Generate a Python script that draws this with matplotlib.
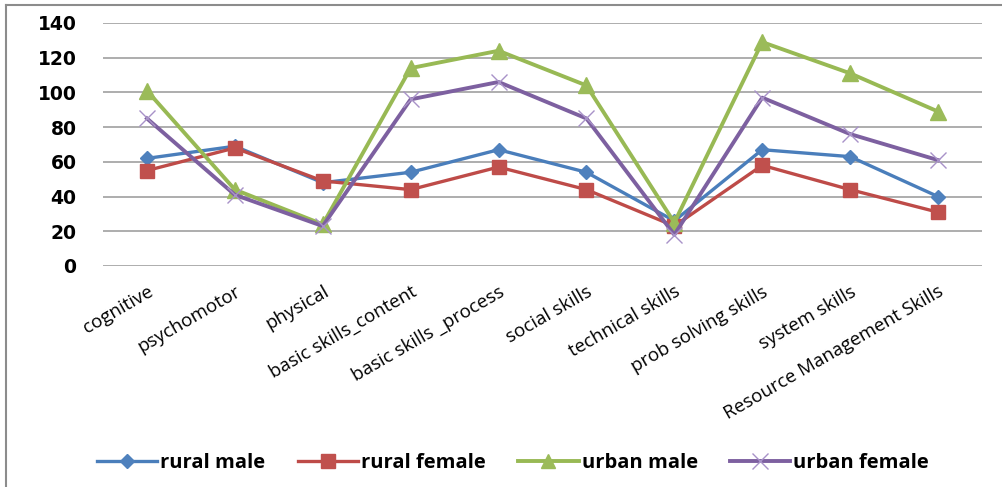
import matplotlib
matplotlib.use("Agg")
import matplotlib.pyplot as plt
from matplotlib.lines import Line2D

# skill categories along the x axis
categories = ["cognitive", "psychomotor", "physical", "basic skills_content",
              "basic skills _process", "social skills", "technical skills",
              "prob solving skills", "system skills", "Resource Management Skills"]

rural_male = [62, 69, 48, 54, 67, 54, 26, 67, 63, 40]
rural_female = [55, 68, 49, 44, 57, 44, 23, 58, 44, 31]
urban_male = [101, 44, 24, 114, 124, 104, 25, 129, 111, 89]
urban_female = [85, 41, 23, 96, 106, 85, 18, 97, 76, 61]

series_names = ["rural male", "rural female", "urban male", "urban female"]
y_ticks = [0, 20, 40, 60, 80, 100, 120, 140]

fig = plt.figure(figsize=(10.02, 4.87), dpi=100)
ax = fig.add_axes([0.1028, 0.4538, 0.8772, 0.499])

x = list(range(len(categories)))

ax.plot(x, rural_male, color="#4A7EBB", lw=2.4, marker="D", ms=7,
        mfc="#4F81BD", mec="#4F81BD", zorder=3)
ax.plot(x, rural_female, color="#BE4B48", lw=2.4, marker="s", ms=10,
        mfc="#C0504D", mec="#C0504D", zorder=3)
ax.plot(x, urban_male, color="#98B954", lw=2.8, marker="^", ms=11,
        mfc="#9BBB59", mec="#9BBB59", zorder=3)
ax.plot(x, urban_female, color="#7D60A0", lw=2.8, zorder=3)
ax.plot(x, urban_female, ls="none", marker="x", ms=12, mew=1.0,
        color="#A892C8", zorder=4)

ax.set_xlim(-0.5, len(categories) - 0.5)
ax.set_ylim(0, 140)
ax.set_yticks(y_ticks)
ax.yaxis.grid(True, color="#A0A0A0", lw=1.2)
ax.set_axisbelow(True)
for s in ax.spines.values():
    s.set_visible(False)
ax.tick_params(length=0)
ax.tick_params(axis="y", pad=19)
for t in ax.get_yticklabels():
    t.set_fontweight("bold")
    t.set_fontsize(13.5)
    t.set_family("DejaVu Sans")

ax.set_xticks(x)
ax.set_xticklabels(categories, rotation=30, ha="right", va="top",
                   rotation_mode="anchor", fontsize=13.5, family="Open Sans")
ax.tick_params(axis="x", pad=12)

handles = [
    Line2D([], [], color="#4A7EBB", lw=2.4, marker="D", ms=7, mfc="#4F81BD", mec="#4F81BD"),
    Line2D([], [], color="#BE4B48", lw=2.4, marker="s", ms=10, mfc="#C0504D", mec="#C0504D"),
    Line2D([], [], color="#98B954", lw=2.8, marker="^", ms=10, mfc="#9BBB59", mec="#9BBB59"),
    Line2D([], [], color="#7D60A0", lw=2.8, marker="x", ms=12, mew=1.0, mec="#A892C8"),
]
fig.legend(handles, series_names,
           loc="center", bbox_to_anchor=(0.512, 0.049), ncol=4, frameon=False,
           handlelength=3.0, handletextpad=0.15, columnspacing=1.6,
           prop={"family": "Open Sans", "weight": "bold", "size": 14.5})

# frame lines along the top and left of the chart area
fig.add_artist(Line2D([6 / 1002, 6 / 1002], [0, 1 - 5 / 487], color="#8C8C8C", lw=1.5,
                      transform=fig.transFigure))
fig.add_artist(Line2D([6 / 1002, 1], [1 - 5 / 487, 1 - 5 / 487], color="#8C8C8C", lw=1.5,
                      transform=fig.transFigure))

fig.savefig("out.png", dpi=100)
